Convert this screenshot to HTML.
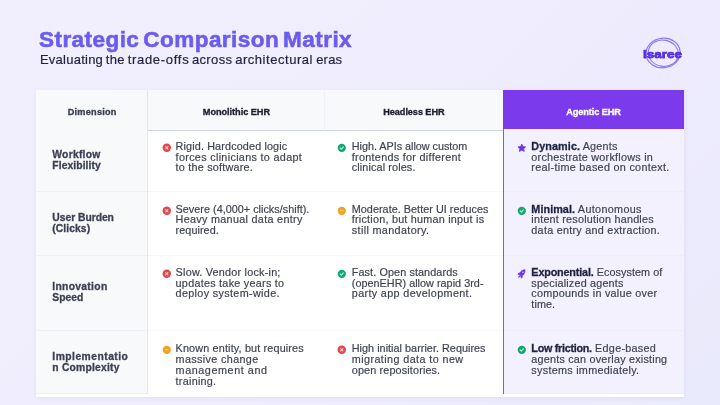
<!DOCTYPE html>
<html><head><meta charset="utf-8">
<style>
*{box-sizing:border-box;margin:0;padding:0}
html,body{width:720px;height:405px;overflow:hidden}
body{font-family:"Liberation Sans",sans-serif;background:linear-gradient(135deg,#f1effd 0%,#f0eefd 35%,#eeebfe 62%,#e9eafb 100%);position:relative;color:#374151}
#title{position:absolute;left:39px;top:26px;font-size:22.5px;font-weight:bold;color:#6b5cf0;white-space:nowrap;letter-spacing:0.45px;word-spacing:-2.7px;line-height:28px;-webkit-text-stroke:0.6px #6b5cf0}
#sub{position:absolute;left:40px;top:51px;width:320px;height:18px;font-size:13px;color:#1f2340;white-space:nowrap;line-height:18px;-webkit-text-stroke:0.2px #1f2340}
.sw{position:absolute;top:0}
#logo{position:absolute;left:640px;top:32px;width:46px;height:42px}
#tbl{position:absolute;left:36px;top:90px;width:648px;height:307px;background:#fff;box-shadow:0 1px 5px rgba(90,70,170,.08)}
.c{position:absolute}
.hb{top:0;height:41px;background:#f8f9fb;border-bottom:1px solid #cfd2d8}
.h{position:absolute;font-weight:bold;font-size:9.2px;line-height:12px;color:#1b1e2c;white-space:nowrap;-webkit-text-stroke:0.32px currentColor}
#dimcol{left:0;top:0;width:112px;height:304px;background:#f8f9fb;border-right:1px solid #e4e6ec}
.dl{position:absolute;left:16.3px;font-weight:bold;font-size:10.3px;line-height:12px;color:#3a4152;white-space:nowrap;-webkit-text-stroke:0.3px currentColor}
.sep{position:absolute;height:1px;background:#f8f8fa}
.cell{font-size:10.8px;line-height:10.9px;color:#3e4250;-webkit-text-stroke:0.18px #3e4250}
.c2{left:112px;width:177px}
.c3{left:288.2px;width:178px}
.c4{left:467.75px;width:181px}
#c4bg{left:467px;top:39px;width:181px;height:265px;background:#f4f1ff;border-left:1.5px solid #7b5fcb}
.t{position:absolute;left:27.6px;white-space:nowrap}
.m{display:block;width:max-content}
.ic{position:absolute;left:13.6px;width:9.6px;height:9.6px;overflow:visible}
.c3 .ic{left:13.2px}.c4 .ic{left:13.1px}
b{color:#1f2340;-webkit-text-stroke:0.3px #1f2340}
#tbl,#title,#sub,#logo{will-change:transform;filter:blur(0.4px)}
</style></head><body>
<div id="title">Strategic Comparison Matrix</div>
<div id="sub"><span class="f sw" id="s0" style="letter-spacing:0.248px;left:-0.10px">Evaluating</span><span class="f sw" id="s1" style="letter-spacing:0.374px;left:65.65px">the</span><span class="f sw" id="s2" style="letter-spacing:0.701px;left:87.65px">trade-offs</span><span class="f sw" id="s3" style="letter-spacing:0.367px;left:151.90px">across</span><span class="f sw" id="s4" style="letter-spacing:0.545px;left:195.15px">architectural</span><span class="f sw" id="s5" style="letter-spacing:0.226px;left:276.15px">eras</span></div>
<svg id="logo" viewBox="0 0 46 42"><ellipse cx="23.1" cy="21" rx="17.1" ry="14.8" fill="none" stroke="#9079f2" stroke-width="1.25" transform="rotate(-6 23 21)"/><ellipse cx="23.3" cy="21.2" rx="15.1" ry="13.1" fill="none" stroke="#9079f2" stroke-width="1.1" transform="rotate(10 23 21)"/><text x="2.9" y="25.7" textLength="39" lengthAdjust="spacingAndGlyphs" font-family="Liberation Sans" font-weight="bold" font-size="11.6" fill="#5530e4" stroke="#5530e4" stroke-width="0.75" stroke-linejoin="round">Isaree</text></svg>
<div id="tbl">
 <div class="c" id="dimcol"></div>
 <div class="c hb" style="left:112px;width:177px;border-right:1px solid #f0f1f5"></div>
 <div class="c hb" style="left:289px;width:178px"></div>
 <div class="c" id="c4bg"></div>
 <div class="c" style="left:467px;top:0;width:181px;height:39px;background:#7c3aed"></div>
 <div class="sep" style="left:0;width:111px;top:101px;background:#eff0f4"></div>
 <div class="sep" style="left:0;width:111px;top:165px;background:#eff0f4"></div>
 <div class="sep" style="left:0;width:111px;top:240px;background:#eff0f4"></div>
 <div class="sep" style="left:0;width:111px;top:303px;background:#eceef2"></div>
 <div class="sep" style="left:112px;width:355px;top:101px"></div>
 <div class="sep" style="left:112px;width:355px;top:165px"></div>
 <div class="sep" style="left:112px;width:355px;top:240px"></div>
 <div class="sep" style="left:469px;width:179px;top:101px;background:#eeebfb"></div>
 <div class="sep" style="left:469px;width:179px;top:165px;background:#eeebfb"></div>
 <div class="sep" style="left:469px;width:179px;top:240px;background:#eeebfb"></div>
 <div class="sep" style="left:469px;width:179px;top:303px;background:#eeebfb"></div>
 <div class="h f" id="h1" style="letter-spacing:0.226px;left:31.7px;top:15.5px;color:#3a4152">Dimension</div>
 <div class="h f" id="h2" style="letter-spacing:-0.049px;left:166.8px;top:15.5px">Monolithic EHR</div>
 <div class="h f" id="h3" style="letter-spacing:-0.093px;left:347.3px;top:15.5px">Headless EHR</div>
 <div class="h f" id="h4" style="letter-spacing:-0.105px;left:530.3px;top:15.5px;color:#fff">Agentic EHR</div>
 <div class="dl f" id="d1a" style="letter-spacing:0.268px;top:58.5px">Workflow</div>
 <div class="dl f" id="d1b" style="letter-spacing:0.100px;top:69.8px">Flexibility</div>
 <div class="dl f" id="d2a" style="letter-spacing:-0.018px;top:121.5px">User Burden</div>
 <div class="dl f" id="d2b" style="letter-spacing:0.087px;top:132.9px">(Clicks)</div>
 <div class="dl f" id="d3a" style="letter-spacing:0.314px;top:191.2px">Innovation</div>
 <div class="dl f" id="d3b" style="letter-spacing:0.019px;top:202.4px">Speed</div>
 <div class="dl f" id="d4a" style="letter-spacing:0.484px;top:261px">Implementatio</div>
 <div class="dl f" id="d4b" style="letter-spacing:0.229px;top:272.1px">n Complexity</div>
 <div class="c cell c2" style="top:38.0px;height:63.0px"><svg class="ic" style="top:14.65px" viewBox="0 0 10 10"><circle cx="5" cy="5" r="4.4" fill="#e2454c"/><path d="M3.9 3.9 L6.1 6.1 M6.1 3.9 L3.9 6.1" stroke="#ffd0cb" stroke-width="1.2" stroke-linecap="round"/></svg><div class="t" style="top:12.6px"><div class="m" id="r1c2l1" style="letter-spacing:0.141px">Rigid. Hardcoded logic</div><div class="m" id="r1c2l2" style="letter-spacing:0.318px">forces clinicians to adapt</div><div class="m" id="r1c2l3" style="letter-spacing:0.229px">to the software.</div></div></div>
 <div class="c cell c3" style="top:38.0px;height:63.0px"><svg class="ic" style="top:14.65px" viewBox="0 0 10 10"><circle cx="5" cy="5" r="4.3" fill="#15a571"/><path d="M3.4 5.2 L4.5 6.3 L6.6 4" fill="none" stroke="#a5f5d6" stroke-width="1.2" stroke-linecap="round" stroke-linejoin="round"/></svg><div class="t" style="top:12.6px"><div class="m" id="r1c3l1" style="letter-spacing:-0.014px">High. APIs allow custom</div><div class="m" id="r1c3l2" style="letter-spacing:0.296px">frontends for different</div><div class="m" id="r1c3l3" style="letter-spacing:0.129px">clinical roles.</div></div></div>
 <div class="c cell c4" style="top:38.0px;height:63.0px"><svg class="ic" viewBox="0 0 10 10" style="top:14.65px;margin-left:.4px;margin-top:.5px"><path d="M5 1.1 L6.2 3.7 L9 4.05 L6.95 6 L7.5 8.8 L5 7.4 L2.5 8.8 L3.05 6 L1 4.05 L3.8 3.7 Z" fill="#6d33e8" stroke="#6d33e8" stroke-width="0.8" stroke-linejoin="round"/></svg><div class="t" style="top:12.6px"><div class="m" id="r1c4l1" style="letter-spacing:0.210px"><b id="r1c4l1b" style="letter-spacing:0.092px">Dynamic.</b> Agents</div><div class="m" id="r1c4l2" style="letter-spacing:0.247px">orchestrate workflows in</div><div class="m" id="r1c4l3" style="letter-spacing:0.297px">real-time based on context.</div></div></div>
 <div class="c cell c2" style="top:101.5px;height:63.0px"><svg class="ic" style="top:14.05px" viewBox="0 0 10 10"><circle cx="5" cy="5" r="4.4" fill="#e2454c"/><path d="M3.9 3.9 L6.1 6.1 M6.1 3.9 L3.9 6.1" stroke="#ffd0cb" stroke-width="1.2" stroke-linecap="round"/></svg><div class="t" style="top:12.0px"><div class="m" id="r2c2l1" style="letter-spacing:0.029px">Severe (4,000+ clicks/shift).</div><div class="m" id="r2c2l2" style="letter-spacing:0.303px">Heavy manual data entry</div><div class="m" id="r2c2l3" style="letter-spacing:0.069px">required.</div></div></div>
 <div class="c cell c3" style="top:101.5px;height:63.0px"><svg class="ic" style="top:14.05px" viewBox="0 0 10 10"><circle cx="5" cy="5" r="4.3" fill="#f2a11f"/><rect x="3.1" y="4.45" width="3.8" height="1.1" rx=".5" fill="#ffe391"/></svg><div class="t" style="top:12.0px"><div class="m" id="r2c3l1" style="letter-spacing:0.041px">Moderate. Better UI reduces</div><div class="m" id="r2c3l2" style="letter-spacing:0.231px">friction, but human input is</div><div class="m" id="r2c3l3" style="letter-spacing:0.355px">still mandatory.</div></div></div>
 <div class="c cell c4" style="top:101.5px;height:63.0px"><svg class="ic" style="top:14.05px" viewBox="0 0 10 10"><circle cx="5" cy="5" r="4.3" fill="#15a571"/><path d="M3.4 5.2 L4.5 6.3 L6.6 4" fill="none" stroke="#a5f5d6" stroke-width="1.2" stroke-linecap="round" stroke-linejoin="round"/></svg><div class="t" style="top:12.0px"><div class="m" id="r2c4l1" style="letter-spacing:0.338px"><b id="r2c4l1b" style="letter-spacing:0.068px">Minimal.</b> Autonomous</div><div class="m" id="r2c4l2" style="letter-spacing:0.217px">intent resolution handles</div><div class="m" id="r2c4l3" style="letter-spacing:0.266px">data entry and extraction.</div></div></div>
 <div class="c cell c2" style="top:165.0px;height:75.0px"><svg class="ic" style="top:13.65px" viewBox="0 0 10 10"><circle cx="5" cy="5" r="4.4" fill="#e2454c"/><path d="M3.9 3.9 L6.1 6.1 M6.1 3.9 L3.9 6.1" stroke="#ffd0cb" stroke-width="1.2" stroke-linecap="round"/></svg><div class="t" style="top:11.6px"><div class="m" id="r3c2l1" style="letter-spacing:0.227px">Slow. Vendor lock-in;</div><div class="m" id="r3c2l2" style="letter-spacing:0.262px">updates take years to</div><div class="m" id="r3c2l3" style="letter-spacing:0.339px">deploy system-wide.</div></div></div>
 <div class="c cell c3" style="top:165.0px;height:75.0px"><svg class="ic" style="top:13.65px" viewBox="0 0 10 10"><circle cx="5" cy="5" r="4.3" fill="#15a571"/><path d="M3.4 5.2 L4.5 6.3 L6.6 4" fill="none" stroke="#a5f5d6" stroke-width="1.2" stroke-linecap="round" stroke-linejoin="round"/></svg><div class="t" style="top:11.6px"><div class="m" id="r3c3l1" style="letter-spacing:0.109px">Fast. Open standards</div><div class="m" id="r3c3l2" style="letter-spacing:0.035px">(openEHR) allow rapid 3rd-</div><div class="m" id="r3c3l3" style="letter-spacing:0.348px">party app development.</div></div></div>
 <div class="c cell c4" style="top:165.0px;height:75.0px"><svg class="ic" style="top:13.65px" viewBox="0 0 10 10"><g transform="translate(0.5,0) scale(0.85,1)"><path d="M9.3 0.9 C6.2 0.8 4.2 2.2 3.0 4.2 L1.1 4.5 L0.6 5.6 L2.7 6.0 L4.1 7.4 L4.5 9.5 L5.6 9.0 L5.9 7.1 C7.9 5.9 9.4 3.9 9.3 0.9 Z" fill="#6d33e8" stroke="#6d33e8" stroke-width="0.9" stroke-linejoin="round"/><circle cx="6.6" cy="3.5" r="0.8" fill="#e9dcff"/><path d="M1.2 8.9 C1.2 7.7 1.8 7.1 2.7 7.1 L3 7.4 C3 8.3 2.4 8.9 1.2 8.9Z" fill="#6d33e8" stroke="#6d33e8" stroke-width=".5"/></g></svg><div class="t" style="top:11.6px"><div class="m" id="r3c4l1" style="letter-spacing:0.072px"><b id="r3c4l1b" style="letter-spacing:-0.163px">Exponential.</b> Ecosystem of</div><div class="m" id="r3c4l2" style="letter-spacing:0.189px">specialized agents</div><div class="m" id="r3c4l3" style="letter-spacing:0.259px">compounds in value over</div><div class="m" id="r3c4l4" style="letter-spacing:0.069px">time.</div></div></div>
 <div class="c cell c2" style="top:240.0px;height:64.0px"><svg class="ic" style="top:14.90px" viewBox="0 0 10 10"><circle cx="5" cy="5" r="4.3" fill="#f2a11f"/><rect x="3.1" y="4.45" width="3.8" height="1.1" rx=".5" fill="#ffe391"/></svg><div class="t" style="top:12.8px"><div class="m" id="r4c2l1" style="letter-spacing:0.162px">Known entity, but requires</div><div class="m" id="r4c2l2" style="letter-spacing:0.355px">massive change</div><div class="m" id="r4c2l3" style="letter-spacing:0.568px">management and</div><div class="m" id="r4c2l4" style="letter-spacing:0.259px">training.</div></div></div>
 <div class="c cell c3" style="top:240.0px;height:64.0px"><svg class="ic" style="top:14.90px" viewBox="0 0 10 10"><circle cx="5" cy="5" r="4.4" fill="#e2454c"/><path d="M3.9 3.9 L6.1 6.1 M6.1 3.9 L3.9 6.1" stroke="#ffd0cb" stroke-width="1.2" stroke-linecap="round"/></svg><div class="t" style="top:12.8px"><div class="m" id="r4c3l1" style="letter-spacing:0.037px">High initial barrier. Requires</div><div class="m" id="r4c3l2" style="letter-spacing:0.406px">migrating data to new</div><div class="m" id="r4c3l3" style="letter-spacing:0.148px">open repositories.</div></div></div>
 <div class="c cell c4" style="top:240.0px;height:64.0px"><svg class="ic" style="top:14.90px" viewBox="0 0 10 10"><circle cx="5" cy="5" r="4.3" fill="#15a571"/><path d="M3.4 5.2 L4.5 6.3 L6.6 4" fill="none" stroke="#a5f5d6" stroke-width="1.2" stroke-linecap="round" stroke-linejoin="round"/></svg><div class="t" style="top:12.8px"><div class="m" id="r4c4l1" style="letter-spacing:0.274px"><b id="r4c4l1b" style="letter-spacing:-0.284px">Low friction.</b> Edge-based</div><div class="m" id="r4c4l2" style="letter-spacing:0.213px">agents can overlay existing</div><div class="m" id="r4c4l3" style="letter-spacing:0.280px">systems immediately.</div></div></div>
</div>
</body></html>
